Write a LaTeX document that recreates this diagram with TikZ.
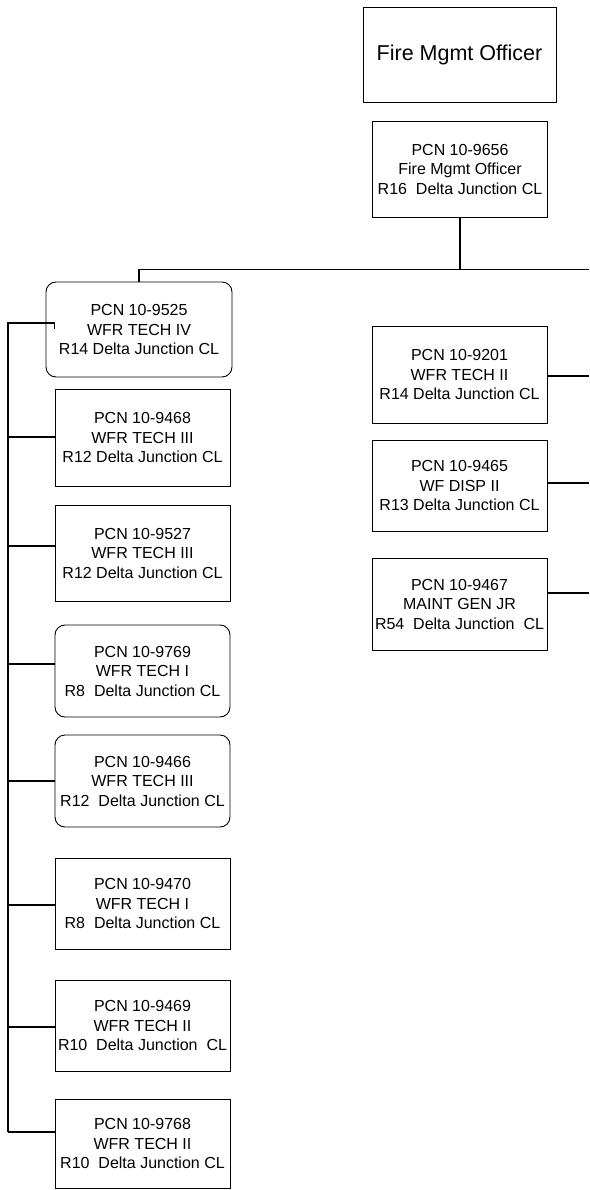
\documentclass[tikz,border=0pt]{standalone}
\usepackage{fontspec}
\setmainfont{Liberation Sans}
\begin{document}
\begin{tikzpicture}[x=1pt, y=-1pt,
  post/.style={draw, line width=0.9pt, align=center, inner sep=0pt,
    minimum width=175pt, font=\fontsize{16}{19.5}\selectfont},
  roundpost/.style={post, rounded corners=10pt},
  link/.style={line width=1.6pt}]
  \useasboundingbox (0,0) rectangle (589,1190);
  \node[post, minimum width=193pt, minimum height=95pt, font=\fontsize{21.5}{26}\selectfont]
    (fmo) at (459.5,54.5) {Fire Mgmt Officer};
  \node[post, minimum height=96pt] (n9656) at (460,169) {PCN 10-9656\\Fire Mgmt Officer\\R16\ \ Delta Junction CL};
  % left column
  \node[roundpost, minimum width=186pt, minimum height=95pt] (n9525) at (139,329.5) {PCN 10-9525\\WFR TECH IV\\R14 Delta Junction CL};
  \node[post, minimum height=97pt] (n9468) at (142.5,437.5) {PCN 10-9468\\WFR TECH III\\R12 Delta Junction CL};
  \node[post, minimum height=96pt] (n9527) at (142.5,553) {PCN 10-9527\\WFR TECH III\\R12 Delta Junction CL};
  \node[roundpost, minimum height=92pt] (n9769) at (142.5,671) {PCN 10-9769\\WFR TECH I\\R8\ \ Delta Junction CL};
  \node[roundpost, minimum height=92pt] (n9466) at (142.5,781) {PCN 10-9466\\WFR TECH III\\R12\ \ Delta Junction CL};
  \node[post, minimum height=91pt] (n9470) at (142.5,903.5) {PCN 10-9470\\WFR TECH I\\R8\ \ Delta Junction CL};
  \node[post, minimum height=91pt] (n9469) at (142.5,1025.5) {PCN 10-9469\\WFR TECH II\\R10\ \ Delta Junction\ \ CL};
  \node[post, minimum height=89pt] (n9768) at (142.5,1143.5) {PCN 10-9768\\WFR TECH II\\R10\ \ Delta Junction CL};
  % right column
  \node[post, minimum height=97pt] (n9201) at (459.5,374.5) {PCN 10-9201\\WFR TECH II\\R14 Delta Junction CL};
  \node[post, minimum height=91pt] (n9465) at (459.5,485.5) {PCN 10-9465\\WF DISP II\\R13 Delta Junction CL};
  \node[post, minimum height=92pt] (n9467) at (459.5,604) {PCN 10-9467\\MAINT GEN JR\\R54\ \ Delta Junction\ \ CL};
  % connectors
  \coordinate (split) at (460,269.5);
  \coordinate (rbus) at (589,269.5);
  \coordinate (bustop) at (8,323);
  \draw[link] (n9656.south) -- (split) -| (n9525.north);
  \draw[link] (split) -- (rbus);
  \draw[link] ([yshift=11.5pt]n9768.west -| bustop) -- (bustop)
    -- ([xshift=9pt]n9525.west |- bustop) -- ++(0,6);
  \foreach \p/\off in {9468/0.5, 9527/7, 9769/7, 9466/0, 9470/-1.5, 9469/-1.5, 9768/11.5}
    \draw[link] ([yshift=\off pt]n\p.west) -- ([yshift=\off pt]n\p.west -| bustop);
  \foreach \p/\off in {9201/-1.5, 9465/2.5, 9467/11}
    \draw[link] ([yshift=\off pt]n\p.east) -- ([yshift=\off pt]n\p.east -| rbus);
\end{tikzpicture}
\end{document}
